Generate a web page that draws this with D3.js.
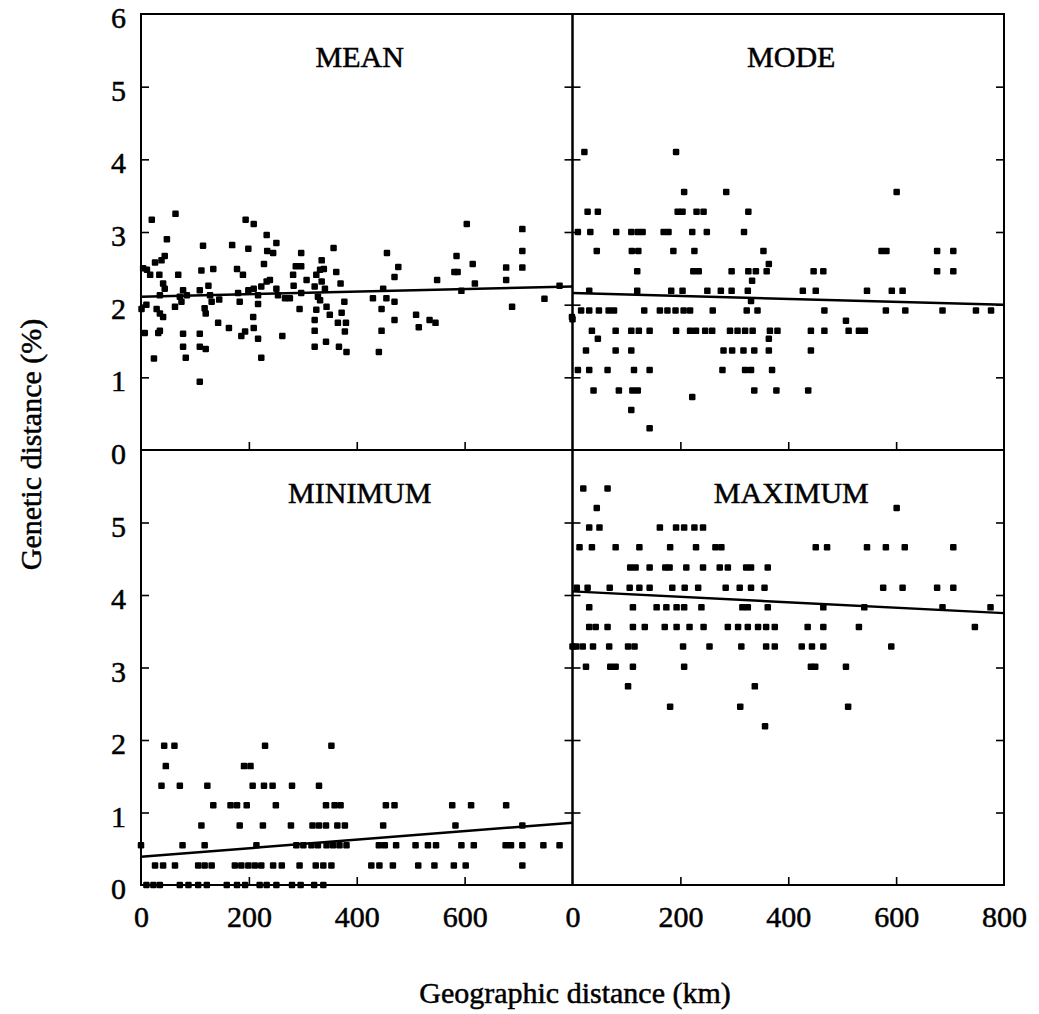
<!DOCTYPE html>
<html>
<head>
<meta charset="utf-8">
<script src="https://cdn.jsdelivr.net/npm/d3@7"></script>
<style>
  body { margin: 0; background: #fff; }
  svg { display: block; }
  text { font-family: 'Liberation Serif', 'Times New Roman', serif; fill: #000; stroke: #000; stroke-width: 0.5px; }
</style>
</head>
<body>
<div id="chart"></div>
<script>
// points are [geographic distance km, genetic distance %]
const meanPoints = [
  [20,3.17],[64,3.25],[194,3.17],[209,3.11],[48,2.90],[115,2.81],[169,2.82],[233,2.96],[251,2.85],[199,2.77],[234,2.74],[245,2.71],[297,2.71],[357,2.78],
  [11,2.48],[26,2.58],[38,2.61],[44,2.67],[112,2.47],[134,2.49],[178,2.49],[189,2.41],[228,2.56],[287,2.53],[297,2.53],[282,2.41],[307,2.34],[335,2.61],[332,2.48],[339,2.49],[362,2.45],[325,2.41],[370,2.29],[322,2.25],
  [17,2.41],[34,2.41],[41,2.29],[44,2.22],[69,2.41],[78,2.20],[109,2.20],[125,2.26],[199,2.20],[209,2.22],[223,2.25],[233,2.32],[239,2.34],[251,2.22],[283,2.26],[335,2.32],[341,2.22],[4,2.50],
  [35,2.13],[72,2.11],[85,2.13],[128,2.13],[180,2.16],[217,2.13],[254,2.13],[267,2.09],[276,2.09],[297,2.16],[328,2.11],
  [1,1.94],[10,2.00],[63,1.97],[75,2.04],[131,2.04],[145,2.07],[183,2.04],[217,2.01],[332,2.06],[377,2.04],
  [29,1.94],[35,1.88],[41,1.83],[118,1.95],[120,1.88],[294,1.94],[325,1.93],[344,1.97],[350,1.86],[372,1.89],
  [208,1.83],[143,1.75],[163,1.68],[365,1.75],[380,1.75],[322,1.79],[378,1.63],
  [7,1.61],[32,1.61],[35,1.64],[78,1.60],[109,1.60],[186,1.57],[193,1.63],[209,1.68],[217,1.53],[262,1.57],[322,1.64],
  [78,1.42],[109,1.42],[120,1.39],[322,1.42],[343,1.49],[367,1.42],[381,1.35],
  [24,1.26],[83,1.27],[223,1.27],[109,0.94],
  [430,2.09],[455,2.09],[446,1.94],[470,2.04],[470,1.79],[446,1.64],[441,1.35],[456,2.71],[477,2.52],[470,2.38],[449,2.22],
  [510,1.86],[515,1.69],[535,1.79],[546,1.75],[549,2.34],[585,2.67],[581,2.45],[587,2.45],[615,2.56],[619,2.29],[594,2.19],
  [604,3.11],[677,2.51],[677,2.34],[688,1.97],[707,3.04],[707,2.74],[707,2.51],[748,2.08],[776,2.26],[799,1.83]
];

const modePoints = [
  [22,4.10],[192,4.10],[207,3.55],[285,3.55],
  [28,3.28],[47,3.28],[195,3.28],[204,3.28],[230,3.28],[243,3.28],[326,3.28],
  [10,3.00],[33,3.00],[81,3.00],[109,3.00],[121,3.00],[130,3.00],[169,3.00],[178,3.00],[222,3.00],[249,3.00],[318,3.00],
  [45,2.74],[110,2.74],[122,2.74],[187,2.74],[226,2.74],[354,2.74],[364,2.56],
  [120,2.46],[224,2.46],[234,2.46],[295,2.46],[326,2.46],[340,2.46],[360,2.46],[333,2.33],
  [31,2.19],[120,2.19],[183,2.19],[204,2.19],[250,2.19],[275,2.19],[295,2.19],[325,2.19],[331,2.05],
  [16,1.92],[31,1.92],[49,1.92],[67,1.92],[77,1.92],[133,1.92],[162,1.92],[176,1.92],[191,1.92],[206,1.92],[218,1.92],[260,1.92],[323,1.92],[343,1.92],[0,1.80],
  [36,1.64],[80,1.64],[109,1.64],[123,1.64],[143,1.64],[192,1.64],[218,1.64],[229,1.64],[246,1.64],[259,1.64],[292,1.64],[306,1.64],[320,1.64],[334,1.64],[366,1.64],[380,1.64],
  [47,1.53],[364,1.53],
  [25,1.37],[80,1.37],[109,1.37],[280,1.37],[296,1.37],[317,1.37],[337,1.37],[364,1.37],
  [10,1.10],[31,1.10],[65,1.10],[114,1.10],[143,1.10],[278,1.10],[320,1.10],[331,1.10],[370,1.10],
  [39,0.82],[86,0.82],[111,0.82],[121,0.82],[337,0.82],[378,0.82],
  [222,0.73],[109,0.55],[143,0.30],
  [601,3.55],[573,2.74],[582,2.74],[676,2.74],[706,2.74],[447,2.46],[465,2.46],[676,2.46],[706,2.46],
  [427,2.19],[451,2.19],[546,2.19],[592,2.19],[612,2.19],
  [467,1.92],[581,1.92],[617,1.92],[686,1.92],[748,1.92],[776,1.92],[507,1.78],
  [442,1.64],[467,1.64],[512,1.64],[531,1.64],[542,1.64],[442,1.37],[437,0.82]
];

const minPoints = [
  [43,1.92],[62,1.92],[230,1.92],[353,1.92],
  [46,1.64],[191,1.64],[203,1.64],
  [38,1.37],[72,1.37],[123,1.37],[207,1.37],[228,1.37],[244,1.37],[280,1.37],[330,1.37],
  [134,1.10],[166,1.10],[178,1.10],[196,1.10],[250,1.10],[343,1.10],[359,1.10],[370,1.10],[454,1.10],[470,1.10],[577,1.10],[612,1.10],[677,1.10],
  [112,0.82],[183,0.82],[226,0.82],[278,0.82],[318,0.82],[330,0.82],[343,0.82],[364,0.82],[378,0.82],[449,0.82],[583,0.82],[707,0.82],
  [0,0.55],[77,0.55],[118,0.55],[214,0.55],[288,0.55],[301,0.55],[316,0.55],[328,0.55],[344,0.55],[356,0.55],[368,0.55],[381,0.55],
  [441,0.55],[452,0.55],[473,0.55],[509,0.55],[532,0.55],[547,0.55],[594,0.55],[617,0.55],[676,0.55],[686,0.55],[707,0.55],[746,0.55],[776,0.55],
  [26,0.27],[41,0.27],[63,0.27],[106,0.27],[118,0.27],[131,0.27],[174,0.27],[186,0.27],[199,0.27],[211,0.27],[223,0.27],[245,0.27],[261,0.27],
  [294,0.27],[324,0.27],[338,0.27],[353,0.27],[427,0.27],[442,0.27],[467,0.27],[514,0.27],[544,0.27],[580,0.27],[602,0.27],[707,0.27],
  [10,0],[23,0],[35,0],[72,0],[88,0],[106,0],[122,0],[159,0],[178,0],[193,0],[220,0],[233,0],[251,0],[280,0],[296,0],[321,0],[338,0]
];

const maxPoints = [
  [20,5.47],[65,5.47],[45,5.20],[601,5.20],
  [31,4.93],[50,4.93],[162,4.93],[192,4.93],[207,4.93],[226,4.93],[242,4.93],
  [13,4.66],[36,4.66],[80,4.66],[124,4.66],[181,4.66],[229,4.66],[265,4.66],[276,4.66],[451,4.66],[472,4.66],[546,4.66],[581,4.66],[616,4.66],[706,4.66],
  [107,4.38],[117,4.38],[143,4.38],[172,4.38],[180,4.38],[211,4.38],[242,4.38],[273,4.38],[288,4.38],[322,4.38],[331,4.38],[362,4.38],
  [8,4.10],[28,4.10],[69,4.10],[106,4.10],[124,4.10],[143,4.10],[185,4.10],[208,4.10],[233,4.10],[284,4.10],[310,4.10],[331,4.10],[356,4.10],[576,4.10],[612,4.10],[676,4.10],[706,4.10],
  [31,3.83],[112,3.83],[156,3.83],[174,3.83],[193,3.83],[207,3.83],[239,3.83],[315,3.83],[325,3.83],[362,3.83],[465,3.83],[541,3.83],[686,3.83],[775,3.83],
  [31,3.56],[43,3.56],[65,3.56],[112,3.56],[134,3.56],[171,3.56],[193,3.56],[217,3.56],[243,3.56],[288,3.56],[307,3.56],[325,3.56],[344,3.56],[359,3.56],[375,3.56],[436,3.56],[465,3.56],[531,3.56],[746,3.56],
  [0,3.29],[7,3.29],[19,3.29],[38,3.29],[68,3.29],[103,3.29],[115,3.29],[205,3.29],[254,3.29],[313,3.29],[359,3.29],[375,3.29],[425,3.29],[444,3.29],[465,3.29],[591,3.29],
  [25,3.01],[70,3.01],[80,3.01],[112,3.01],[207,3.01],[442,3.01],[450,3.01],[507,3.01],
  [103,2.74],[338,2.74],[181,2.46],[311,2.46],[511,2.46],[357,2.19]
];

// regression line values at 0 km and 800 km
const fitKm = [0, 800];
const meanFit = [2.11, 2.25];
const modeFit = [2.16, 2.00];
const minFit = [0.39, 0.86];
const maxFit = [4.05, 3.75];

const panelNames = ['MEAN', 'MODE', 'MINIMUM', 'MAXIMUM'];
const xTickVals = [0, 200, 400, 600, 800];
const yTickVals = [0, 1, 2, 3, 4, 5, 6];

const W = 1039, H = 1014;
const x0 = 141, xm = 572.5, x1 = 1004;
const y0 = 14, ym = 450, y1 = 885;
const tickLen = 8;

const svg = d3.select('#chart').append('svg')
    .attr('width', W)
    .attr('height', H);

const xScales = [
    d3.scaleLinear().domain([0, 800]).range([x0, xm]),
    d3.scaleLinear().domain([0, 800]).range([xm, x1])
];
const yScales = [
    d3.scaleLinear().domain([0, 6]).range([ym, y0]),
    d3.scaleLinear().domain([0, 6]).range([y1, ym])
];

const panels = [
    {name: panelNames[0], pts: meanPoints, fit: meanFit, col: 0, row: 0},
    {name: panelNames[1], pts: modePoints, fit: modeFit, col: 1, row: 0},
    {name: panelNames[2], pts: minPoints, fit: minFit, col: 0, row: 1},
    {name: panelNames[3], pts: maxPoints, fit: maxFit, col: 1, row: 1}
];

panels.forEach(p => {
    const x = xScales[p.col], y = yScales[p.row];
    const [xa, xb] = x.range();
    const [yb, ya] = y.range();
    const g = svg.append('g');

    // inward ticks on both sides and the bottom
    g.append('g')
        .attr('transform', `translate(${xa},0)`)
        .call(d3.axisLeft(y).tickValues([1, 2, 3, 4, 5]).tickSize(-tickLen).tickFormat(''));
    g.append('g')
        .attr('transform', `translate(${xb},0)`)
        .call(d3.axisRight(y).tickValues([1, 2, 3, 4, 5]).tickSize(-tickLen).tickFormat(''));
    g.append('g')
        .attr('transform', `translate(0,${yb})`)
        .call(d3.axisBottom(x).tickValues([200, 400, 600]).tickSize(-tickLen).tickFormat(''));
    g.selectAll('.domain').remove();
    g.selectAll('.tick line').attr('stroke', '#000').attr('stroke-width', 1.6);

    // frame
    g.append('rect')
        .attr('x', xa).attr('y', ya)
        .attr('width', xb - xa).attr('height', yb - ya)
        .attr('fill', 'none')
        .attr('stroke', '#000')
        .attr('stroke-width', 2);

    // regression line
    g.append('line')
        .attr('x1', x(fitKm[0])).attr('y1', y(p.fit[0]))
        .attr('x2', x(fitKm[1])).attr('y2', y(p.fit[1]))
        .attr('stroke', '#000')
        .attr('stroke-width', 2.5);

    // points
    const s = 6.5;
    g.selectAll('rect.pt')
        .data(p.pts)
        .enter().append('rect')
        .attr('class', 'pt')
        .attr('x', d => x(d[0]) - s / 2)
        .attr('y', d => y(d[1]) - s / 2)
        .attr('width', s).attr('height', s)
        .attr('rx', 1.2)
        .attr('fill', '#000');

    g.append('text')
        .attr('x', (xa + xb) / 2 + 3)
        .attr('y', ya + 53)
        .attr('text-anchor', 'middle')
        .style('font-size', '30px')
        .text(p.name);
});

// y tick labels
[[yScales[0], yTickVals], [yScales[1], yTickVals.slice(0, 6)]].forEach(([y, vals]) => {
    const a = svg.append('g')
        .attr('transform', `translate(${x0},0)`)
        .call(d3.axisLeft(y).tickValues(vals).tickSize(0).tickPadding(15).tickFormat(d3.format('d')));
    a.select('.domain').remove();
    a.selectAll('text').style('font-size', '30px').attr('font-family', null).attr('dy', '0.45em');
});

// x tick labels
[[xScales[0], xTickVals.slice(0, 4)], [xScales[1], xTickVals]].forEach(([x, vals]) => {
    const a = svg.append('g')
        .attr('transform', `translate(0,${y1})`)
        .call(d3.axisBottom(x).tickValues(vals).tickSize(0).tickPadding(21).tickFormat(d3.format('d')));
    a.select('.domain').remove();
    a.selectAll('text').style('font-size', '30px').attr('font-family', null);
});

svg.append('text')
    .attr('transform', `translate(41,${(y0 + y1) / 2 - 5}) rotate(-90)`)
    .attr('text-anchor', 'middle')
    .style('font-size', '30px')
    .text('Genetic distance (%)');

svg.append('text')
    .attr('x', 575)
    .attr('y', 1003)
    .attr('text-anchor', 'middle')
    .style('font-size', '30px')
    .text('Geographic distance (km)');
</script>
</body>
</html>
